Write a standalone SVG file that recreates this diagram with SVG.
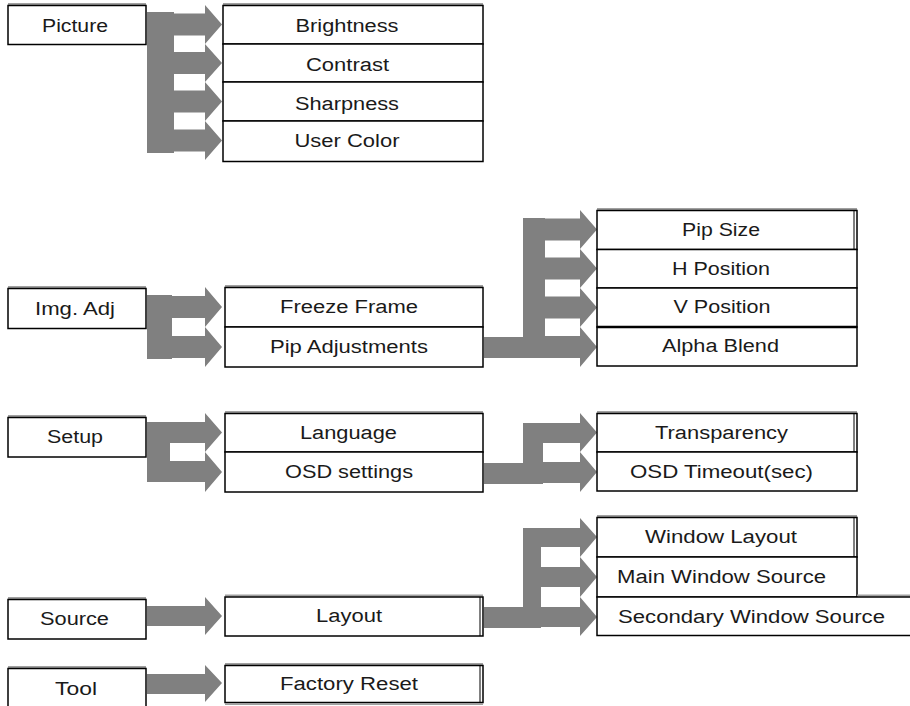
<svg xmlns="http://www.w3.org/2000/svg" width="910" height="706" viewBox="0 0 910 706">
<style>
.box{fill:#fff;stroke:#000;stroke-width:1.5}
.sh{stroke:#a0a0a0;stroke-width:2;fill:none}
.rt{stroke:#000;stroke-width:1;fill:none}
.conn{fill:#808080;stroke:none}
text{font-family:"Liberation Sans",Arial,sans-serif;font-size:18px;fill:#1a1a1a;text-anchor:middle}
</style>
<rect width="910" height="706" fill="#fff"/>
<g id="connectors">
  <!-- Picture -->
  <rect class="conn" x="147" y="12" width="27" height="141"/>
  <polygon class="conn" points="172,13.5 205,13.5 205,5 222,24.5 205,44 205,35.5 172,35.5"/>
  <polygon class="conn" points="172,52 205,52 205,44 222,63 205,82 205,74 172,74"/>
  <polygon class="conn" points="172,90.5 205,90.5 205,82 222,101.5 205,121 205,112.5 172,112.5"/>
  <polygon class="conn" points="172,129.5 205,129.5 205,121 222,140.5 205,160 205,151.5 172,151.5"/>
  <!-- Img. Adj -->
  <rect class="conn" x="147" y="295" width="25" height="64"/>
  <polygon class="conn" points="170,296 205,296 205,287 222,307 205,327 205,318 170,318"/>
  <polygon class="conn" points="170,336 205,336 205,327 222,347 205,367 205,358 170,358"/>
  <!-- Pip Adjustments -->
  <rect class="conn" x="484" y="337" width="61" height="21"/>
  <rect class="conn" x="523" y="218" width="22" height="140"/>
  <polygon class="conn" points="543,218.5 580,218.5 580,210 597,229.5 580,249 580,240.5 543,240.5"/>
  <polygon class="conn" points="543,257.5 580,257.5 580,249 597,268.5 580,288 580,279.5 543,279.5"/>
  <polygon class="conn" points="543,296.5 580,296.5 580,288 597,307.5 580,327 580,318.5 543,318.5"/>
  <polygon class="conn" points="543,336 580,336 580,327 597,347 580,367 580,358 543,358"/>
  <!-- Setup -->
  <rect class="conn" x="147" y="422" width="23" height="60"/>
  <polygon class="conn" points="168,422 205,422 205,413 222,432.5 205,452 205,443 168,443"/>
  <polygon class="conn" points="168,461 205,461 205,452 222,472 205,492 205,482 168,482"/>
  <!-- OSD settings -->
  <rect class="conn" x="484" y="463" width="59" height="21"/>
  <rect class="conn" x="523" y="423" width="20" height="61"/>
  <polygon class="conn" points="541,423 580,423 580,413 597,432.5 580,452 580,443 541,443"/>
  <polygon class="conn" points="541,462 580,462 580,452 597,472 580,492 580,483 541,483"/>
  <!-- Source -->
  <polygon class="conn" points="147,606 205,606 205,597 222,616 205,635 205,626 147,626"/>
  <!-- Layout -->
  <rect class="conn" x="484" y="607" width="57" height="21"/>
  <rect class="conn" x="523" y="528" width="18" height="100"/>
  <polygon class="conn" points="539,528 580,528 580,518 597,537 580,557 580,547 539,547"/>
  <polygon class="conn" points="539,567 580,567 580,557 597,577 580,597 580,587 539,587"/>
  <polygon class="conn" points="539,607 580,607 580,597 597,617 580,636 580,627 539,627"/>
  <!-- Tool -->
  <polygon class="conn" points="147,674 205,674 205,665 222,683 205,702 205,694 147,694"/>
</g>

<g id="picture">
  <line class="sh" x1="8" y1="4" x2="146" y2="4"/>
  <rect class="box" x="8" y="5.5" width="138" height="39"/>
  <text x="75" y="32" textLength="66" lengthAdjust="spacingAndGlyphs">Picture</text>
</g>
<g id="brightness">
  <line class="sh" x1="223" y1="4" x2="483" y2="4"/>
  <rect class="box" x="223" y="5.5" width="260" height="38.5"/>
  <text x="347" y="32" textLength="103" lengthAdjust="spacingAndGlyphs">Brightness</text>
</g>
<g id="contrast">
  <line class="sh" x1="223" y1="45" x2="483" y2="45"/>
  <rect class="box" x="223" y="44" width="260" height="38"/>
  <text x="347.5" y="71" textLength="83" lengthAdjust="spacingAndGlyphs">Contrast</text>
</g>
<g id="sharpness">
  <line class="sh" x1="223" y1="83" x2="483" y2="83"/>
  <rect class="box" x="223" y="82" width="260" height="39"/>
  <text x="347" y="110" textLength="104" lengthAdjust="spacingAndGlyphs">Sharpness</text>
</g>
<g id="user-color">
  <line class="sh" x1="223" y1="122" x2="483" y2="122"/>
  <rect class="box" x="223" y="121" width="260" height="40.5"/>
  <text x="347" y="147" textLength="105" lengthAdjust="spacingAndGlyphs">User Color</text>
</g>

<g id="img-adj">
  <line class="sh" x1="8" y1="287" x2="146" y2="287"/>
  <rect class="box" x="8" y="288.5" width="138" height="40"/>
  <text x="75" y="315" textLength="80" lengthAdjust="spacingAndGlyphs">Img. Adj</text>
</g>
<g id="freeze-frame">
  <line class="sh" x1="225" y1="286" x2="483" y2="286"/>
  <rect class="box" x="225" y="287.5" width="258" height="39.5"/>
  <text x="349" y="313" textLength="138" lengthAdjust="spacingAndGlyphs">Freeze Frame</text>
</g>
<g id="pip-adjustments">
  <line class="sh" x1="225" y1="328.5" x2="483" y2="328.5"/>
  <rect class="box" x="225" y="327" width="258" height="40"/>
  <text x="349" y="353" textLength="158" lengthAdjust="spacingAndGlyphs">Pip Adjustments</text>
</g>

<g id="pip-size">
  <line class="sh" x1="597" y1="209" x2="857" y2="209"/>
  <rect class="box" x="597" y="210.5" width="260" height="39"/>
  <line class="rt" x1="854" y1="210.5" x2="854" y2="366"/>
  <text x="721" y="236" textLength="78" lengthAdjust="spacingAndGlyphs">Pip Size</text>
</g>
<g id="h-position">
  <rect class="box" x="597" y="249.5" width="260" height="38.5"/>
  <text x="721" y="275" textLength="98" lengthAdjust="spacingAndGlyphs">H Position</text>
</g>
<g id="v-position">
  <rect class="box" x="597" y="288" width="260" height="39"/>
  <text x="722" y="313" textLength="97" lengthAdjust="spacingAndGlyphs">V Position</text>
</g>
<g id="alpha-blend">
  <rect class="box" x="597" y="327" width="260" height="39"/>
  <line x1="597" y1="327" x2="857" y2="327" stroke="#000" stroke-width="2.5"/>
  <text x="720.5" y="352" textLength="117" lengthAdjust="spacingAndGlyphs">Alpha Blend</text>
</g>

<g id="setup">
  <line class="sh" x1="8" y1="416" x2="146" y2="416"/>
  <rect class="box" x="8" y="417.5" width="138" height="39.5"/>
  <text x="75" y="443" textLength="56" lengthAdjust="spacingAndGlyphs">Setup</text>
</g>
<g id="language">
  <line class="sh" x1="225" y1="412" x2="483" y2="412"/>
  <rect class="box" x="225" y="413.5" width="258" height="38.5"/>
  <text x="348.5" y="439" textLength="97" lengthAdjust="spacingAndGlyphs">Language</text>
</g>
<g id="osd-settings">
  <rect class="box" x="225" y="452" width="258" height="40"/>
  <text x="349" y="478" textLength="128" lengthAdjust="spacingAndGlyphs">OSD settings</text>
</g>

<g id="transparency">
  <line class="sh" x1="597" y1="412" x2="857" y2="412"/>
  <rect class="box" x="597" y="413.5" width="260" height="38.5"/>
  <line class="rt" x1="854" y1="413.5" x2="854" y2="491"/>
  <text x="721.5" y="439" textLength="133" lengthAdjust="spacingAndGlyphs">Transparency</text>
</g>
<g id="osd-timeout">
  <rect class="box" x="597" y="452" width="260" height="39"/>
  <text x="721.5" y="478" textLength="183" lengthAdjust="spacingAndGlyphs">OSD Timeout(sec)</text>
</g>

<g id="window-layout">
  <line class="sh" x1="597" y1="516" x2="857" y2="516"/>
  <rect class="box" x="597" y="517.5" width="260" height="39.5"/>
  <line class="rt" x1="854" y1="517.5" x2="854" y2="597"/>
  <text x="721" y="543" textLength="152" lengthAdjust="spacingAndGlyphs">Window Layout</text>
</g>
<g id="main-window-source">
  <rect class="box" x="597" y="557" width="260" height="40"/>
  <text x="721.5" y="583" textLength="209" lengthAdjust="spacingAndGlyphs">Main Window Source</text>
</g>
<g id="secondary-window-source">
  <line class="sh" x1="857" y1="595.5" x2="910" y2="595.5"/>
  <rect class="box" x="597" y="597" width="320" height="38.5"/>
  <text x="751.5" y="623" textLength="267" lengthAdjust="spacingAndGlyphs">Secondary Window Source</text>
</g>

<g id="source">
  <line class="sh" x1="8" y1="598" x2="146" y2="598"/>
  <rect class="box" x="8" y="599.5" width="138" height="39.5"/>
  <text x="74.5" y="625" textLength="69" lengthAdjust="spacingAndGlyphs">Source</text>
</g>
<g id="layout">
  <line class="sh" x1="225" y1="595.5" x2="483" y2="595.5"/>
  <rect class="box" x="225" y="597" width="258" height="39"/>
  <line class="rt" x1="480" y1="597" x2="480" y2="636"/>
  <text x="349" y="622" textLength="66" lengthAdjust="spacingAndGlyphs">Layout</text>
</g>

<g id="tool">
  <line class="sh" x1="8" y1="667" x2="146" y2="667"/>
  <rect class="box" x="8" y="668.5" width="138" height="42"/>
  <text x="76" y="695" textLength="42" lengthAdjust="spacingAndGlyphs">Tool</text>
</g>
<g id="factory-reset">
  <line class="sh" x1="225" y1="664" x2="483" y2="664"/>
  <rect class="box" x="225" y="665.5" width="258" height="37"/>
  <line class="rt" x1="480" y1="665.5" x2="480" y2="702.5"/>
  <line class="sh" x1="225" y1="704" x2="483" y2="704"/>
  <text x="349" y="690" textLength="138" lengthAdjust="spacingAndGlyphs">Factory Reset</text>
</g>
</svg>
